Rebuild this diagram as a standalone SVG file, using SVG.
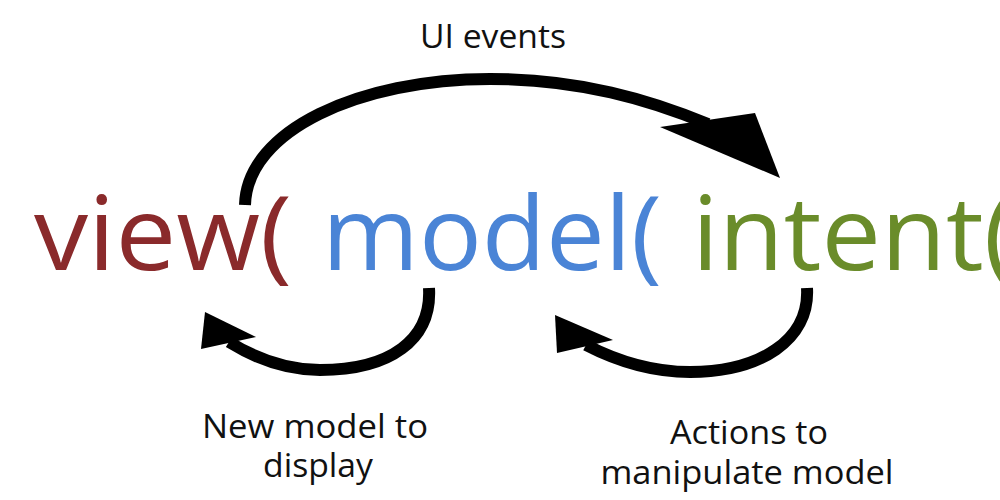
<svg xmlns="http://www.w3.org/2000/svg" width="1000" height="500" viewBox="0 0 1000 500">
  <style>
    .big { font-family: "Open Sans", "Liberation Sans", sans-serif; font-size: 103px; }
    .lbl { font-family: "Open Sans", "Liberation Sans", sans-serif; font-size: 32px; fill: #111; text-anchor: middle; }
    .arc { fill: none; stroke: #000; stroke-width: 12; }
    .head { fill: #000; }
  </style>
  <rect width="1000" height="500" fill="#fff"/>
  <g id="connectors">
    <g id="ui-events-arrow">
      <path class="arc" d="M 245 205 C 247 130, 360 79, 490 79 C 580 79, 650 100, 708 124"/>
      <polygon class="head" points="660,127 755,113 780,178"/>
    </g>
    <g id="new-model-arrow">
      <path class="arc" d="M 429 288 C 432 340, 390 370, 320 370 C 285 370, 255 358, 229 342"/>
      <polygon class="head" points="205,312 256,337 201,349"/>
    </g>
    <g id="actions-arrow">
      <path class="arc" d="M 807 288 C 810 340, 760 372, 690 372 C 650 372, 615 360, 586 345"/>
      <polygon class="head" points="555,315 613,340 557,353"/>
    </g>
  </g>
  <g id="node-view">
    <text class="big" x="34" y="270" fill="#8a2a2b" textLength="258" lengthAdjust="spacingAndGlyphs">view(</text>
  </g>
  <g id="node-model">
    <text class="big" x="322" y="270" fill="#4a84d6" textLength="340" lengthAdjust="spacingAndGlyphs">model(</text>
  </g>
  <g id="node-intent">
    <text class="big" x="692" y="270" fill="#6a8c2a" textLength="323" lengthAdjust="spacingAndGlyphs">intent(</text>
  </g>
  <g id="label-ui-events">
    <text class="lbl" x="493" y="48" font-size="34" textLength="146" lengthAdjust="spacingAndGlyphs">UI events</text>
  </g>
  <g id="label-new-model">
    <text class="lbl" x="315" y="438" textLength="226" lengthAdjust="spacingAndGlyphs">New model to</text>
    <text class="lbl" x="318" y="477" textLength="110" lengthAdjust="spacingAndGlyphs">display</text>
  </g>
  <g id="label-actions">
    <text class="lbl" x="749" y="444" textLength="158" lengthAdjust="spacingAndGlyphs">Actions to</text>
    <text class="lbl" x="747" y="484" textLength="293" lengthAdjust="spacingAndGlyphs">manipulate model</text>
  </g>
</svg>
